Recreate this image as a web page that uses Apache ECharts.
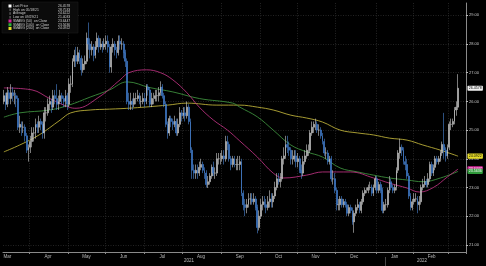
<!DOCTYPE html>
<html><head><meta charset="utf-8">
<script src="https://cdn.jsdelivr.net/npm/echarts@6/dist/echarts.min.js"></script>
<style>html,body{margin:0;padding:0;background:#000;}#c{width:486px;height:266px;}</style>
</head><body><div id="c"></div>
<script>
// ---- price bars (one per weekday from 2021-03-11) ----
const opens = [
26.0,26.2,25.9,26.3,26.1,26.3,26.2,26.2,26.1,25.1,25.2,25.1,25.1,24.8,24.3,
24.4,24.6,24.9,24.9,25.2,25.1,25.3,25.2,24.9,25.6,25.6,25.9,26.0,25.8,26.2,26.1,25.9,26.0,26.2,26.1,26.0,26.2,
25.9,26.6,26.6,27.4,27.6,27.4,27.7,27.5,27.1,27.3,27.4,28.2,28.0,27.8,27.9,27.6,27.9,28.2,27.9,28.0,27.9,
28.0,28.1,27.9,27.2,27.9,28.0,27.8,27.7,28.1,28.0,28.0,27.7,27.4,26.0,25.9,26.0,25.9,26.1,26.1,26.2,26.0,26.0,
26.1,26.0,26.5,26.4,25.9,26.1,26.1,26.2,26.2,26.3,26.5,26.2,25.9,25.2,24.9,25.4,25.3,25.2,25.3,24.9,25.2,25.6,
25.5,25.6,25.5,25.8,25.3,24.3,23.6,23.5,23.6,23.5,23.7,23.8,23.6,23.5,23.1,23.2,23.4,23.7,23.5,23.5,24.0,24.0,
24.0,24.1,24.0,24.6,24.5,24.0,23.8,24.0,23.8,23.8,23.8,23.9,22.8,22.4,22.3,22.4,22.6,22.6,22.5,22.6,22.3,21.6,
22.0,22.4,22.5,22.4,22.3,22.5,22.6,22.5,22.7,23.0,23.3,23.2,23.3,24.0,24.1,24.5,24.4,24.3,24.0,24.0,24.1,
23.9,24.0,23.6,23.5,23.9,24.1,24.3,24.3,24.9,25.1,25.2,25.2,25.0,25.0,24.8,24.6,24.2,24.2,23.9,24.0,23.3,23.3,
22.9,22.4,22.4,22.6,22.4,22.5,22.4,22.1,22.3,22.2,21.8,22.1,22.3,22.4,22.2,22.5,22.8,22.9,22.9,23.0,23.0,22.8,23.0,
23.3,22.9,23.1,22.9,22.2,22.4,22.4,22.9,23.2,23.0,22.9,23.0,23.6,24.2,24.4,24.3,23.9,23.8,23.4,22.7,22.3,
22.5,22.6,22.6,22.4,22.5,23.0,23.1,23.2,23.1,23.3,23.8,23.5,23.7,24.0,23.9,24.0,24.2,24.5,24.3,24.1,
24.4,25.2,25.2,25.3,25.7,25.8];
const closes = [
26.2,25.9,26.3,26.1,26.3,26.2,26.2,26.1,25.1,25.2,25.1,25.1,24.8,24.3,24.4,
24.6,24.9,24.9,25.2,25.1,25.3,25.2,24.9,25.6,25.6,25.9,26.0,25.8,26.2,26.1,25.9,26.0,26.2,26.1,26.0,26.2,25.9,
26.6,26.6,27.4,27.6,27.4,27.7,27.5,27.1,27.3,27.4,28.2,28.0,27.8,27.9,27.6,27.9,28.2,27.9,28.0,27.9,28.0,
28.1,27.9,27.2,27.9,28.0,27.8,27.7,28.1,28.0,28.0,27.7,27.4,26.0,25.9,26.0,25.9,26.1,26.1,26.2,26.0,26.0,26.1,
26.0,26.5,26.4,25.9,26.1,26.1,26.2,26.2,26.3,26.5,26.2,25.9,25.2,24.9,25.4,25.3,25.2,25.3,24.9,25.2,25.6,25.5,
25.6,25.5,25.8,25.3,24.3,23.6,23.5,23.6,23.5,23.7,23.8,23.6,23.5,23.1,23.2,23.4,23.7,23.5,23.5,24.0,24.0,24.0,
24.1,24.0,24.6,24.5,24.0,23.8,24.0,23.8,23.8,23.8,23.9,22.8,22.4,22.3,22.4,22.6,22.6,22.5,22.6,22.3,21.6,22.0,
22.4,22.5,22.4,22.3,22.5,22.6,22.5,22.7,23.0,23.3,23.2,23.3,24.0,24.1,24.5,24.4,24.3,24.0,24.0,24.1,23.9,
24.0,23.6,23.5,23.9,24.1,24.3,24.3,24.9,25.1,25.2,25.2,25.0,25.0,24.8,24.6,24.2,24.2,23.9,24.0,23.3,23.3,22.9,
22.4,22.4,22.6,22.4,22.5,22.4,22.1,22.3,22.2,21.8,22.1,22.3,22.4,22.2,22.5,22.8,22.9,22.9,23.0,23.0,22.8,23.0,23.3,
22.9,23.1,22.9,22.2,22.4,22.4,22.9,23.2,23.0,22.9,23.0,23.6,24.2,24.4,24.3,23.9,23.8,23.4,22.7,22.3,22.5,
22.6,22.6,22.4,22.5,23.0,23.1,23.2,23.1,23.3,23.8,23.5,23.7,24.0,23.9,24.0,24.2,24.5,24.3,24.1,24.4,
25.2,25.2,25.3,25.7,25.8,26.4578];
const lows = [
25.9,25.7,25.8,25.9,25.9,26.0,25.9,25.8,25.0,24.9,24.8,24.9,24.6,24.2,23.9,
24.2,24.4,24.6,24.7,24.9,24.9,25.0,24.7,24.7,25.3,25.5,25.7,25.6,25.7,25.9,25.7,25.7,25.9,25.9,25.8,25.8,25.7,
25.8,26.3,26.5,27.2,27.2,27.3,27.3,26.9,27.0,27.1,27.3,27.8,27.5,27.6,27.4,27.5,27.8,27.7,27.8,27.7,27.8,
27.8,27.7,27.0,27.0,27.7,27.6,27.5,27.6,27.8,27.8,27.5,27.2,25.9,25.7,25.7,25.7,25.8,25.9,26.0,25.9,25.8,25.9,
25.8,25.9,26.2,25.8,25.8,25.9,26.0,26.0,26.0,26.2,26.1,25.8,25.1,24.7,24.8,25.1,25.0,25.1,24.8,24.8,25.1,25.3,
25.4,25.3,25.4,25.2,24.2,23.3,23.3,23.3,23.3,23.4,23.6,23.5,23.3,23.0,22.98,23.1,23.3,23.4,23.3,23.4,23.8,23.8,
23.9,23.8,23.9,24.3,23.9,23.6,23.7,23.7,23.6,23.6,23.6,22.7,22.2,22.0,22.1,22.3,22.4,22.4,22.4,22.2,21.4,21.5,
21.9,22.2,22.3,22.1,22.2,22.3,22.3,22.3,22.6,22.9,23.1,23.0,23.2,23.8,24.0,24.2,24.1,23.8,23.8,23.9,23.7,
23.7,23.5,23.3,23.4,23.8,24.0,24.1,24.2,24.8,24.9,25.0,24.9,24.8,24.7,24.5,24.1,24.0,23.8,23.8,23.2,23.1,22.8,
22.2,22.2,22.2,22.3,22.3,22.3,22.0,22.0,22.1,21.7,21.42,22.0,22.2,22.1,22.1,22.4,22.7,22.8,22.8,22.9,22.7,22.7,22.9,
22.8,22.8,22.8,22.1,22.1,22.2,22.3,22.8,22.9,22.8,22.8,22.9,23.5,24.0,24.1,23.8,23.6,23.3,22.6,22.2,22.2,
22.4,22.5,22.1,22.2,22.4,22.9,23.0,23.0,23.0,23.2,23.4,23.4,23.6,23.8,23.8,23.9,24.1,24.0,23.9,24.0,
24.3,25.0,25.1,25.2,25.5,25.7];
const highs = [
26.4,26.3,26.5,26.4,26.6,26.5,26.4,26.3,26.2,25.5,25.3,25.3,25.2,24.9,24.5,
24.8,25.1,25.1,25.4,25.3,25.5,25.4,25.3,25.8,25.8,26.1,26.2,26.1,26.4,26.4,26.6,26.2,26.4,26.3,26.2,26.4,26.3,
26.8,26.9,27.5,27.8,27.9,27.9,27.8,27.6,27.5,27.6,28.4,28.75,28.2,28.1,28.0,28.1,28.4,28.3,28.2,28.1,28.2,
28.3,28.3,28.0,28.0,28.2,28.1,27.9,28.3,28.3,28.2,28.1,27.8,27.5,26.3,26.3,26.1,26.3,26.3,26.4,26.3,26.2,26.3,
26.3,26.6,26.6,26.5,26.3,26.3,26.4,26.4,26.5,26.7,26.6,26.3,26.0,25.3,25.5,25.5,25.4,25.5,25.4,25.4,25.8,25.7,
25.8,25.8,26.0,25.9,25.4,24.4,23.8,23.8,23.8,23.9,24.0,23.9,23.7,23.6,23.4,23.5,23.8,23.9,23.7,24.2,24.2,24.2,
24.3,24.3,24.8,24.8,24.6,24.1,24.1,24.1,24.0,24.1,24.1,24.0,22.9,22.6,22.6,22.8,22.8,22.8,22.8,22.7,22.4,22.2,
22.6,22.7,22.7,22.6,22.7,22.9,22.8,22.8,23.2,23.5,23.5,23.5,24.1,24.4,24.8,24.8,24.6,24.4,24.3,24.3,24.3,
24.2,24.1,23.8,24.1,24.3,24.5,24.5,25.0,25.3,25.3,25.4,25.3,25.2,25.1,24.9,24.7,24.4,24.3,24.1,24.1,23.6,23.5,
23.0,22.6,22.7,22.7,22.6,22.6,22.5,22.4,22.4,22.3,22.2,22.4,22.6,22.5,22.6,22.9,23.0,23.0,23.1,23.2,23.1,23.1,23.4,
23.4,23.2,23.2,23.0,22.5,22.6,23.0,23.4,23.3,23.1,23.1,23.7,24.3,24.7,24.5,24.4,24.1,24.0,23.5,22.8,22.6,
22.8,22.8,22.7,22.7,23.1,23.3,23.4,23.3,23.5,23.9,23.9,23.8,24.1,24.1,24.1,24.3,24.6,25.6,24.4,24.5,
25.3,25.4,25.4,25.8,26.0,26.95];

// ---- moving averages ----
const sma50Dates = ['2021-03-11','2021-04-02','2021-04-16','2021-05-03','2021-05-07','2021-05-26','2021-06-11','2021-06-18','2021-07-02','2021-07-14','2021-07-23','2021-08-04','2021-08-13','2021-08-25','2021-09-06','2021-09-15','2021-09-29','2021-10-12','2021-10-20','2021-11-08','2021-11-19','2021-12-13','2021-12-30','2022-01-12','2022-01-26','2022-02-04','2022-02-16','2022-02-28','2022-03-08'];
const sma50Values = [26.47,26.40,26.10,25.80,25.76,26.15,26.75,27.00,27.10,27.00,26.75,26.30,25.80,25.35,25.00,24.62,24.06,23.50,23.33,23.43,23.54,23.54,23.33,23.15,22.98,22.84,23.00,23.37,23.64];
const sma100Dates = ['2021-03-11','2021-03-24','2021-04-16','2021-05-03','2021-05-19','2021-06-03','2021-06-17','2021-07-06','2021-07-23','2021-08-13','2021-09-09','2021-09-15','2021-09-29','2021-10-12','2021-10-26','2021-11-08','2021-11-19','2021-12-03','2021-12-17','2021-12-30','2022-01-12','2022-01-26','2022-02-08','2022-02-22','2022-03-08'];
const sma100Values = [25.45,25.60,25.70,25.87,26.15,26.40,26.68,26.48,26.33,26.10,25.94,25.80,25.46,25.00,24.48,24.24,24.06,23.68,23.54,23.43,23.33,23.26,23.20,23.33,23.56];
const sma200Dates = ['2021-03-11','2021-03-24','2021-04-08','2021-04-26','2021-05-04','2021-05-19','2021-06-03','2021-06-22','2021-07-20','2021-08-04','2021-08-27','2021-09-15','2021-09-29','2021-10-12','2021-10-26','2021-11-08','2021-11-19','2021-12-03','2021-12-17','2021-12-30','2022-01-12','2022-01-26','2022-02-08','2022-02-22','2022-03-08'];
const sma200Values = [24.24,24.48,24.83,25.35,25.60,25.70,25.73,25.77,25.87,25.94,25.87,25.87,25.80,25.70,25.52,25.42,25.28,25.00,24.90,24.83,24.72,24.65,24.48,24.30,24.09];

// ---- text ----
const monthNames = ['Jan','Feb','Mar','Apr','May','Jun','Jul','Aug','Sep','Oct','Nov','Dec'];
const yTicks = [21,22,23,24,25,26,27,28,29];
const yearLabels = ['2021','2022'];
const legendLabels = ['Last Price','High on 05/18/21','Average','Low on 09/29/21','SMAVG (50)  on Close','SMAVG (100)  on Close','SMAVG (200)  on Close'];
const legendValues = ['26.4578','28.7533','24.6222','21.4033','23.6447','23.5636','24.0922'];
const tagValues = [26.4578, 24.0922, 23.6447, 23.5636];

// axis categories: every weekday from 2021-03-11 to 2022-03-14
const dates = [];
for (let t = Date.UTC(2021,2,11); t <= Date.UTC(2022,2,14); t += 86400000) {
  const d = new Date(t); const w = d.getUTCDay();
  if (w > 0 && w < 6) dates.push(d.toISOString().slice(0,10));
}
const monthOf = s => s.slice(5,7);
const dayOf = s => +s.slice(8,10);
const isMonthStart = i => i > 0 && monthOf(dates[i]) !== monthOf(dates[i-1]);
const isMid = i => dayOf(dates[i]) >= 15 && (i === 0 || monthOf(dates[i]) !== monthOf(dates[i-1]) || dayOf(dates[i-1]) < 15);

const candle = closes.map((c,i) => [opens[i], c, lows[i], highs[i]]);
const pairs = (ds, vs) => ds.map((d,i) => [d, vs[i]]);

const MAG = '#b4307c', GRN = '#3c8c3c', YEL = '#b8ab38';
const FONT = 'Liberation Sans, Arial, sans-serif';
const tagStyle = [
  {bg:'#f2f2f2', fg:'#000'}, {bg:'#e6dc28', fg:'#000'}, {bg:'#d8249a', fg:'#fff'}, {bg:'#2f9a3a', fg:'#fff'}
];

const legendGfx = [{type:'rect', shape:{x:2,y:2,width:76,height:31}, style:{fill:'#0b0b0b', stroke:'#1e1e1e', lineWidth:0.5}, z:100}];
const sw = ['#ffffff', null, null, null, '#d8249a', '#2fb03a', '#e6dc28'];
legendLabels.forEach((lab, k) => {
  const y = 6 + k * 3.75;
  if (sw[k]) legendGfx.push({type:'rect', shape:{x:8.5,y:y-1.5,width:3,height:3}, style:{fill:sw[k]}, z:101});
  else legendGfx.push({type:'rect', shape:{x:9.7,y:y-1.2,width:0.7,height:2.4}, style:{fill:'#aaa'}, z:101});
  legendGfx.push({type:'text', x:13, y:y, style:{text:lab, fill:'#cfcfcf', font:'3.4px ' + FONT, textVerticalAlign:'middle'}, z:101});
  legendGfx.push({type:'text', x:58, y:y, style:{text:legendValues[k], fill:'#cfcfcf', font:'3.4px ' + FONT, textVerticalAlign:'middle'}, z:101});
});
legendGfx.push({type:'text', x:189, y:261, style:{text:yearLabels[0], fill:'#bbb', font:'4.5px ' + FONT, textAlign:'center', textVerticalAlign:'middle'}});
legendGfx.push({type:'text', x:422, y:261, style:{text:yearLabels[1], fill:'#bbb', font:'4.5px ' + FONT, textAlign:'center', textVerticalAlign:'middle'}});
legendGfx.push({type:'line', shape:{x1:385.5,y1:257,x2:385.5,y2:266}, style:{stroke:'#777', lineWidth:0.6}});

const chart = echarts.init(document.getElementById('c'), null, {renderer:'canvas'});
chart.setOption({
  backgroundColor: '#000',
  animation: false,
  grid: {left:3, right:20, top:3, bottom:14},
  xAxis: {
    type:'category', data: dates, boundaryGap: true,
    axisLine: {lineStyle:{color:'#8a8a8a', width:1}},
    axisTick: {show:true, length:2, interval:(i)=>isMonthStart(i), lineStyle:{color:'#8a8a8a'}},
    axisLabel: {interval:(i)=>isMid(i), formatter:(v)=>monthNames[+v.slice(5,7)-1], color:'#bbb', fontSize:4.5, margin:2, fontFamily:FONT},
    splitLine: {show:true, interval:(i)=>isMonthStart(i), lineStyle:{color:'#3a3a3a', type:[1,1.5], width:0.6}}
  },
  yAxis: {
    type:'value', position:'right', min:20.75, max:29.43, scale:true,
    axisLine: {show:true, lineStyle:{color:'#8a8a8a', width:1}},
    axisTick: {show:true, length:2, customValues: yTicks, lineStyle:{color:'#bbb'}},
    axisLabel: {customValues: yTicks, formatter:(v)=>v.toFixed(2), color:'#c8c8c8', fontSize:4, margin:3, fontFamily:FONT},
    splitLine: {show:true, lineStyle:{color:'#3a3a3a', type:[1,1.5], width:0.6}}
  },
  series: [
    {type:'line', data: pairs(sma200Dates, sma200Values), smooth:0.4, showSymbol:false, lineStyle:{color:YEL, width:0.9}, z:2},
    {type:'line', data: pairs(sma100Dates, sma100Values), smooth:0.4, showSymbol:false, lineStyle:{color:GRN, width:0.9}, z:2},
    {type:'line', data: pairs(sma50Dates, sma50Values), smooth:0.4, showSymbol:false, lineStyle:{color:MAG, width:0.9}, z:2},
    {type:'candlestick', data: candle, barWidth:'75%', z:3,
      itemStyle:{color:'#b4b4b4', borderColor:'#cccccc', color0:'#2f6fc6', borderColor0:'#4a86d6', borderWidth:0.6},
      markLine:{silent:true, symbol:'none', precision:4,
        lineStyle:{color:'rgba(0,0,0,0)', width:0},
        label:{show:true, position:'end', distance:1.5, fontSize:3.6, fontFamily:FONT, padding:[0.6,1.2], borderRadius:0.8},
        data: tagValues.map((v,i)=>({yAxis:v, label:{show:true, formatter: legendValues[[0,6,4,5][i]], backgroundColor: tagStyle[i].bg, color: tagStyle[i].fg}}))
      }
    }
  ],
  graphic: legendGfx
});
</script></body></html>
